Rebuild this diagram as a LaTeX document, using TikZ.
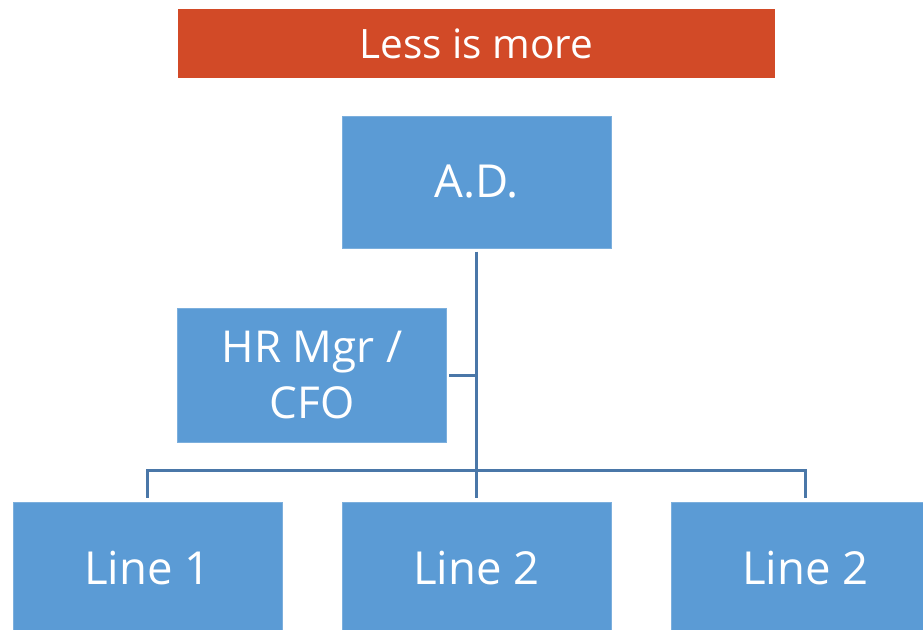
\documentclass[tikz,border=0pt]{standalone}
\usepackage{fontspec}
\setmainfont{Open Sans}
\usepackage{tikz}

\definecolor{titlered}{HTML}{D24A27}
\definecolor{boxblue}{HTML}{5B9BD5}
\definecolor{linkblue}{HTML}{4A77A8}

\begin{document}
\begin{tikzpicture}[x=1pt,y=-1pt,
  unit/.style={fill=boxblue,draw=boxblue!80!white,line width=1pt,inner sep=0pt,
    minimum width=269pt,minimum height=132pt,text=white,align=center,
    font=\fontsize{45.5}{56}\selectfont},
  link/.style={draw=linkblue,line width=3pt}]
\useasboundingbox (0,0) rectangle (923,629);
\node[fill=titlered,inner sep=0pt,minimum width=597pt,minimum height=69pt,
  text=white,font=\fontsize{40.5}{50}\selectfont] (title) at (476.5,43.5) {Less is more};
\node[unit] (ad) at (476.5,182) {A.D.};
\node[unit,minimum height=134pt,font=\fontsize{44}{56}\selectfont] (hr) at (312,375) {HR Mgr /\\CFO};
\node[unit] (l1) at (147.5,568) {Line 1};
\node[unit] (l2) at (476.5,568) {Line 2};
\node[unit] (l3) at (805.5,568) {Line 2};
\draw[link,shorten <=3pt,shorten >=4pt] (ad.south) -- (l2.north);
\draw[link,shorten <=2pt] (hr.east) -- (ad.south |- hr.east);
\draw[link,line width=2.5pt,shorten <=4pt,shorten >=4pt] (l1.north) -- ++(0,-31) -| (l3.north);
\end{tikzpicture}
\end{document}
